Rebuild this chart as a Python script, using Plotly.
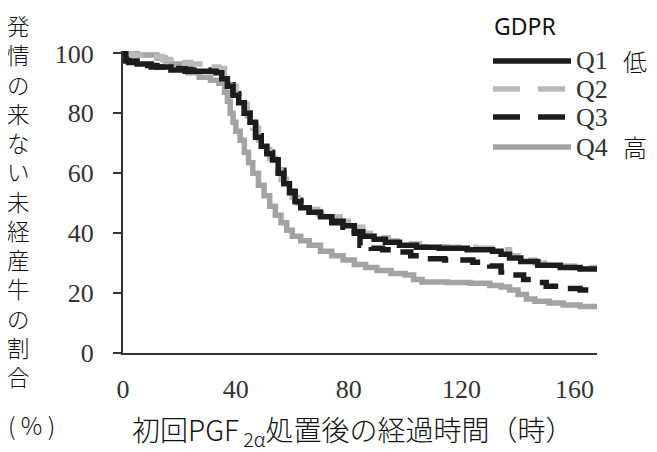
import plotly.graph_objects as go

# ---- data ----
q1_t = [0, 1, 5, 10, 17, 22, 33, 35, 37, 39, 41, 43, 45, 47, 49, 51, 53, 55, 57, 59, 61, 63, 66, 70, 74, 78, 82, 85, 89, 93, 98, 104, 112, 122, 131, 134, 137, 141, 147, 155, 162, 168]
q1_v = [100, 97.5, 96.5, 95.5, 94.5, 94, 93.5, 91.5, 89, 86, 83.5, 80, 77, 72, 69, 66.5, 64.5, 60, 56.5, 53.5, 50.5, 48.5, 47, 45.5, 44, 42.5, 40.5, 39, 38, 37, 36, 35.3, 35, 34.5, 34, 33, 31.7, 30.5, 29.3, 28.5, 28, 27.7]

q2_t = [0, 3, 10, 14, 18, 24, 30, 34, 36, 38, 40, 42, 44, 46, 48, 50, 52, 54, 56, 58, 60, 62, 65, 69, 73, 77, 81, 85, 89, 94, 99, 105, 115, 125, 133, 137, 141, 146, 152, 160, 168]
q2_v = [100, 99.5, 99, 98, 97, 96.5, 95.5, 95, 92, 89, 86, 83, 79, 75, 71, 68, 65, 62, 58, 55, 52, 50, 48, 46.5, 45.5, 44, 42, 40, 38.5, 37.5, 36.5, 35.5, 35.3, 35, 34.5, 32.5, 31, 30, 29, 28.5, 28]

q3_t = [0, 2, 6, 12, 18, 24, 33, 35, 37, 39, 41, 43, 45, 47, 49, 51, 53, 55, 57, 59, 61, 63, 66, 70, 74, 78, 82, 84, 88, 92, 96, 102, 108, 114, 120, 124, 130, 134, 137, 142, 146, 150, 156, 162, 168]
q3_v = [100, 97, 96, 95.5, 95, 94.5, 94, 92, 89.5, 86.5, 83, 80, 76, 72.5, 69.5, 67, 64.5, 61, 57, 54, 51, 49, 47, 45, 43.5, 42, 40, 36, 35, 34.5, 33.7, 32.5, 31.5, 31, 31, 30.3, 29, 27, 26, 24.5, 23.5, 22.3, 21.5, 21, 21]

q4_t = [0, 5, 12, 15, 17, 20, 23, 27, 31, 34, 36, 37, 38, 39, 40, 41.5, 43, 44.5, 46, 48, 50, 52, 54, 56, 58, 60, 63, 66, 70, 74, 78, 82, 86, 90, 95, 100, 103, 106, 115, 123, 130, 134, 137, 140, 143, 146, 151, 156, 162, 168]
q4_v = [100, 99.5, 98.5, 97.5, 96.5, 95, 93.5, 92, 91, 90, 87, 84, 80, 77, 74, 71, 67, 63.5, 60, 56, 52.5, 49, 46, 43.5, 41, 39, 37.5, 36, 34, 32.5, 31, 29.5, 28.5, 27.5, 26.5, 26, 24.5, 23.7, 23.5, 23.3, 22.5, 22, 21, 19.5, 18, 17.3, 16.7, 16, 15.5, 15.3]

series_names = ["Q1", "Q2", "Q3", "Q4"]
x_ticks = [0, 40, 80, 120, 160]
y_ticks = [0, 20, 40, 60, 80, 100]
y_title = "発情の来ない未経産牛の割合"
level_labels = {"Q1": "低", "Q4": "高"}

# ---- styles ----
BLACK = "#1c1c1c"
GRAY4 = "#a3a3a3"
GRAY2 = "#b9b9b9"
styles = {
    "Q1": dict(color=BLACK, dash="solid"),
    "Q2": dict(color=GRAY2, dash="22px,12px"),
    "Q3": dict(color=BLACK, dash="22px,12px"),
    "Q4": dict(color=GRAY4, dash="solid"),
}
LW = 5.5

# the page puts the figure 8px from the top-left corner of the window
OFF = 8
W, H = 657 - OFF, 452 - OFF
ML, MT = 123 - OFF, 51 - OFF
MB = H - (353 - OFF)
MR = W - (597 - OFF)
PW = W - ML - MR
PH = H - MT - MB


def px_x(px):  # window pixel -> paper
    return (px - OFF - ML) / PW


def px_y(py):
    return (H - MB - (py - OFF)) / PH


fig = go.Figure()
data = {"Q1": (q1_t, q1_v), "Q2": (q2_t, q2_v), "Q3": (q3_t, q3_v), "Q4": (q4_t, q4_v)}
for name in ["Q4", "Q3", "Q2", "Q1"]:
    t, v = data[name]
    fig.add_trace(go.Scatter(x=t, y=v, mode="lines", line_shape="hv", name=name,
                             line=dict(color=styles[name]["color"], width=LW, dash=styles[name]["dash"]),
                             showlegend=False, hoverinfo="skip"))

tickfont = dict(family="Liberation Serif, Times New Roman, serif", size=26, color="#333333")
fig.update_layout(
    template="none",
    width=W, height=H,
    margin=dict(l=ML, r=MR, t=MT, b=MB, pad=0, autoexpand=False),
    paper_bgcolor="white", plot_bgcolor="white",
    showlegend=False,
    xaxis=dict(range=[0, 168], tickvals=x_ticks, ticktext=[str(v) for v in x_ticks],
               showgrid=False, zeroline=False, showline=True, linecolor="#333333", linewidth=2,
               ticks="", tickfont=tickfont, ticklabelstandoff=12, automargin=False),
    yaxis=dict(range=[0, 100.8], tickvals=y_ticks, ticktext=[str(v) for v in y_ticks],
               showgrid=False, zeroline=False, showline=True, linecolor="#333333", linewidth=2,
               ticks="outside", ticklen=8, tickwidth=2, tickcolor="#333333",
               tickfont=tickfont, ticklabelstandoff=14, automargin=False),
)

jp = "Noto Sans CJK JP"
# y-axis title: vertical stack of characters
fig.add_annotation(text="<br>".join(list(y_title)), xref="paper", yref="paper",
                   x=px_x(18), y=px_y(200.5), xanchor="center", yanchor="middle", showarrow=False,
                   font=dict(family=jp, size=22.5, color="#111111", weight=300))
fig.add_annotation(text="( % )", xref="paper", yref="paper", x=px_x(31), y=px_y(424),
                   xanchor="center", yanchor="middle", showarrow=False,
                   font=dict(family=jp, size=24, color="#111111", weight=300))

# x-axis title
fig.add_annotation(text="初回PGF<sub> 2α</sub>処置後の経過時間（時）", xref="paper", yref="paper",
                   x=px_x(353), y=px_y(431), xanchor="center", yanchor="middle", showarrow=False,
                   font=dict(family=jp, size=28, color="#111111", weight=300))

# legend (drawn manually)
fig.add_annotation(text="GDPR", xref="paper", yref="paper", x=px_x(492), y=px_y(26),
                   xanchor="left", yanchor="middle", showarrow=False,
                   font=dict(family="Noto Sans, Open Sans, sans-serif", size=23, color="#111111"))
leg_y = {"Q1": 61, "Q2": 89, "Q3": 117, "Q4": 147}
for name in series_names:
    py = leg_y[name]
    fig.add_shape(type="line", xref="paper", yref="paper", x0=px_x(493), x1=px_x(571),
                  y0=px_y(py), y1=px_y(py),
                  line=dict(color=styles[name]["color"], width=LW,
                            dash="27px,18px" if styles[name]["dash"] != "solid" else "solid"))
    fig.add_annotation(text=name, xref="paper", yref="paper", x=px_x(574), y=px_y(py),
                       xanchor="left", yanchor="middle", showarrow=False,
                       font=dict(family="Liberation Serif, Times New Roman, serif", size=26, color="#333333"))
    if name in level_labels:
        fig.add_annotation(text=level_labels[name], xref="paper", yref="paper", x=px_x(635), y=px_y(py - 1),
                           xanchor="center", yanchor="middle", showarrow=False,
                           font=dict(family=jp, size=24, color="#111111", weight=300))

fig.write_html("out.html")
